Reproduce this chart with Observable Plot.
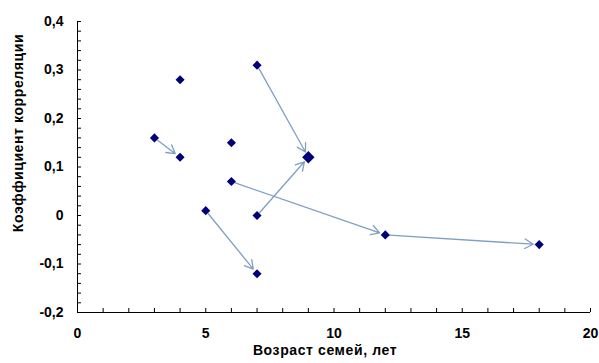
<!DOCTYPE html>
<html><head><meta charset="utf-8">
<script src="https://cdn.jsdelivr.net/npm/d3@7"></script>
<script src="https://cdn.jsdelivr.net/npm/@observablehq/plot@0.6"></script>
<style>body{margin:0;background:#fff}</style>
</head><body><div id="chart"></div>
<script>
const ageX = [3, 4, 4, 5, 6, 6, 7, 7, 7, 9, 12, 18];
const corrY = [0.16, 0.12, 0.28, 0.01, 0.15, 0.07, 0.31, 0, -0.12, 0.12, -0.04, -0.06];
const arrowFromX = [3, 7, 7, 5, 6, 12];
const arrowFromY = [0.16, 0.31, 0, 0.01, 0.07, -0.04];
const arrowToX = [4, 9, 9, 7, 12, 18];
const arrowToY = [0.12, 0.12, 0.12, -0.12, -0.04, -0.06];
const xTicks = [0, 5, 10, 15, 20];
const yTicks = [-0.2, -0.1, 0, 0.1, 0.2, 0.3, 0.4];
const xMinor = d3.range(0, 21, 1);
const yMinor = d3.range(-10, 21, 1).map(k => k / 50);
const xTitle = "Возраст семей, лет";
const yTitle = "Коэффициент корреляции";

const points = ageX.map((x, i) => ({x, y: corrY[i], big: x === 9}));
const arrows = arrowFromX.map((x, i) => ({x1: x, y1: arrowFromY[i], x2: arrowToX[i], y2: arrowToY[i]}));
const fmt = d => d === 0 ? "0" : d.toFixed(1).replace(".", ",");

const chart = Plot.plot({
  width: 599, height: 363,
  marginTop: 21, marginRight: 9, marginBottom: 51, marginLeft: 77,
  style: {fontFamily: "'Liberation Sans', Arial, sans-serif", fontWeight: "bold", fontSize: "14px", color: "#000", background: "#fff"},
  x: {domain: [0, 20]},
  y: {domain: [-0.2, 0.4]},
  marks: [
    Plot.axisX({ticks: xMinor, tickSize: -4, tickFormat: () => "", label: null, stroke: "#000"}),
    Plot.axisX({ticks: xTicks, tickSize: 0, tickPadding: 16, tickFormat: d => String(d), label: null, fontSize: 14}),
    Plot.axisY({ticks: yMinor, tickSize: -4, tickFormat: () => "", label: null, stroke: "#000"}),
    Plot.axisY({ticks: yTicks, tickSize: 0, tickPadding: 14, tickFormat: fmt, label: null, fontSize: 14}),
    Plot.ruleY([-0.2], {stroke: "#000", strokeWidth: 1}),
    Plot.ruleX([0], {stroke: "#000", strokeWidth: 1}),
    Plot.arrow(arrows, {x1: "x1", y1: "y1", x2: "x2", y2: "y2", stroke: "#7f9fc4", strokeWidth: 1.3, headLength: 11, insetStart: 4, insetEnd: 6}),
    Plot.dot(points.filter(d => !d.big), {x: "x", y: "y", symbol: "diamond2", r: 4.1, fill: "#00007a", stroke: "none"}),
    Plot.dot(points.filter(d => d.big), {x: "x", y: "y", symbol: "diamond2", r: 5.6, fill: "#00007a", stroke: "none"}),
    Plot.text([xTitle], {frameAnchor: "bottom", dy: 42, text: d => d, fontSize: 14, fontWeight: "bold", textAnchor: "middle", dx: -9}),
    Plot.text([yTitle], {frameAnchor: "left", textAnchor: "middle", dx: -59, dy: -34, rotate: -90, text: d => d, fontSize: 14, fontWeight: "bold"})
  ]
});
chart.querySelectorAll("g[aria-label='text'] text").forEach(t => t.setAttribute("letter-spacing", "0.6px"));
document.getElementById("chart").appendChild(chart);
</script></body></html>
